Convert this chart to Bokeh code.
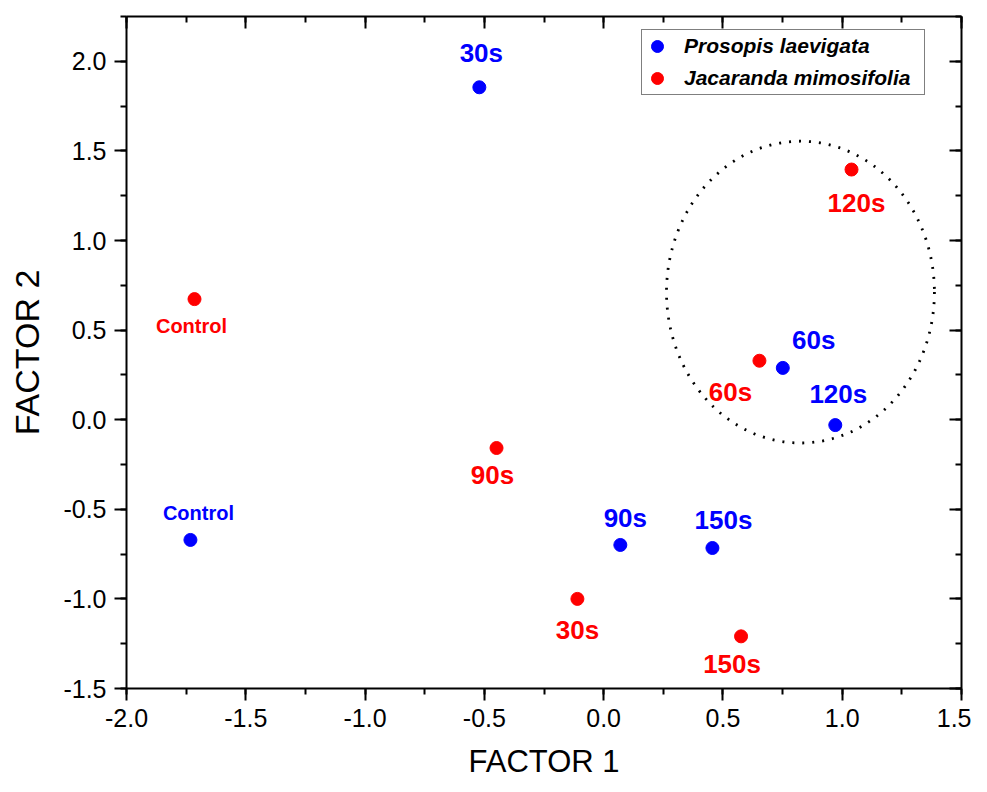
from bokeh.plotting import figure
from bokeh.models import (ColumnDataSource, LinearAxis, SingleIntervalTicker,
                          Range1d, Legend, LegendItem, PrintfTickFormatter,
                          CustomJSTickFormatter)
from bokeh.core.properties import value
from bokeh.embed import file_html
from bokeh.resources import INLINE

# ---- data ----
labels = ["Control", "30s", "60s", "90s", "120s", "150s"]
pl_x = [-1.732, -0.521, 0.751, 0.070, 0.971, 0.456]
pl_y = [-0.671, 1.855, 0.289, -0.699, -0.030, -0.716]
jm_x = [-1.715, -0.110, 0.653, -0.449, 1.039, 0.576]
jm_y = [0.673, -1.000, 0.329, -0.158, 1.396, -1.209]
series_names = ["Prosopis laevigata", "Jacaranda mimosifolia"]

# ---- label placement (screen px, y down) ----
pl_dx = [8, 2, 31, 5, 3, 11]
pl_dy = [-27, -34, -28, -27, -31, -28]
jm_dx = [-3, 0, -29, -4, 5, -9]
jm_dy = [27, 31, 31, 27, 33, 28]
label_sizes = ["20px", "26px", "26px", "26px", "26px", "26px"]

# highlighted group ellipse (data units)
ell_cx, ell_cy, ell_w, ell_h = 0.825, 0.712, 1.123, 1.684

FONT = "Liberation Sans"
BLUE = "#0000ff"
RED = "#ff0000"

p = figure(frame_width=835, frame_height=672,
           x_range=Range1d(-2.0, 1.5), y_range=Range1d(-1.5, 2.25),
           output_backend="svg", toolbar_location=None,
           min_border_left=126, min_border_top=16, min_border_right=10,
           min_border_bottom=10, x_axis_label="FACTOR 1",
           y_axis_label="FACTOR 2")
p.background_fill_color = "white"
p.border_fill_color = "white"
p.outline_line_color = None
p.xgrid.grid_line_color = None
p.ygrid.grid_line_color = None

xt = SingleIntervalTicker(interval=0.5, num_minor_ticks=2)
yt = SingleIntervalTicker(interval=0.5, num_minor_ticks=2)

for ax, t in ((p.xaxis[0], xt), (p.yaxis[0], yt)):
    ax.ticker = t
    ax.formatter = PrintfTickFormatter(format="%.1f")
    ax.axis_line_width = 2
    ax.major_tick_line_width = 2
    ax.minor_tick_line_width = 2
    ax.major_tick_out = 12
    ax.major_tick_in = 0
    ax.minor_tick_out = 6
    ax.minor_tick_in = 0
    ax.major_label_text_font = FONT
    ax.major_label_text_font_size = "25px"
    ax.major_label_text_color = "black"
    ax.axis_label_text_font = FONT
    ax.axis_label_text_font_style = "normal"
    ax.axis_label_text_color = "black"
    ax.major_label_standoff = 8

p.xaxis[0].axis_label_text_font_size = "31px"
p.xaxis[0].axis_label_standoff = 14
p.yaxis[0].axis_label_text_font_size = "34px"
p.yaxis[0].axis_label_standoff = 14

for loc, t in (("right", yt), ("above", xt)):
    ax = LinearAxis(ticker=t, formatter=CustomJSTickFormatter(code="return ''"))
    ax.axis_line_width = 2
    ax.major_tick_line_width = 2
    ax.minor_tick_line_width = 2
    ax.major_tick_out = 0
    ax.major_tick_in = 12
    ax.minor_tick_out = 0
    ax.minor_tick_in = 6
    ax.major_label_standoff = 0
    p.add_layout(ax, loc)

p.ellipse(x=ell_cx, y=ell_cy, width=ell_w, height=ell_h, fill_color=None,
          line_color="black", line_width=2.8, line_dash="2 8")

src_pl = ColumnDataSource(dict(x=pl_x, y=pl_y, t=labels, dx=pl_dx, dy=pl_dy,
                               fs=label_sizes))
src_jm = ColumnDataSource(dict(x=jm_x, y=jm_y, t=labels, dx=jm_dx, dy=jm_dy,
                               fs=label_sizes))

r_pl = p.scatter("x", "y", source=src_pl, size=13, color=BLUE)
r_jm = p.scatter("x", "y", source=src_jm, size=13, color=RED)

for src, col in ((src_pl, BLUE), (src_jm, RED)):
    p.text("x", "y", text="t", source=src, x_offset="dx", y_offset="dy",
           text_font=value(FONT), text_font_style="bold",
           text_font_size="fs", text_color=col, text_align="center",
           text_baseline="middle")

legend = Legend(items=[LegendItem(label=series_names[0], renderers=[r_pl]),
                       LegendItem(label=series_names[1], renderers=[r_jm])],
                location=(515, 593))
legend.label_text_font = FONT
legend.label_text_font_size = "21px"
legend.label_text_font_style = "bold italic"
legend.label_text_color = "black"
legend.border_line_color = "black"
legend.border_line_width = 1
legend.padding = 0
legend.spacing = -2
legend.glyph_height = 32
legend.glyph_width = 30
legend.label_height = 32
legend.label_width = 240
legend.label_standoff = 12
legend.margin = 0
legend.background_fill_alpha = 1
p.add_layout(legend, "center")

open("out.html", "w").write(file_html(p, INLINE))
